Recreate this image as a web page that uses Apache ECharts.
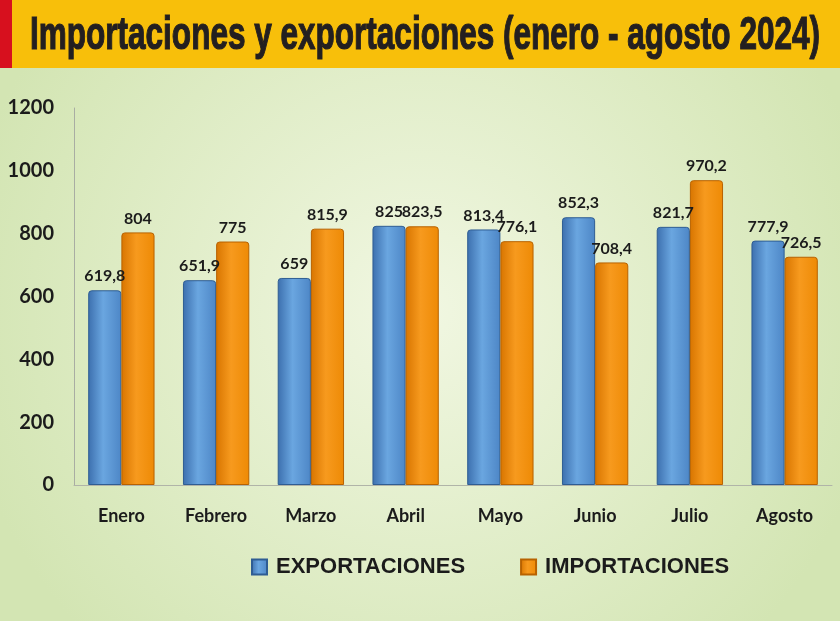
<!DOCTYPE html>
<html>
<head>
<meta charset="utf-8">
<script src="https://cdn.jsdelivr.net/npm/echarts@6/dist/echarts.min.js"></script>
<style>
  html, body { margin: 0; padding: 0; }
  #chart { width: 840px; height: 621px; }
</style>
</head>
<body>
<div id="chart"></div>
<script>
const titleText = "Importaciones y exportaciones (enero - agosto 2024)";
const months = ["Enero", "Febrero", "Marzo", "Abril", "Mayo", "Junio", "Julio", "Agosto"];
const exportaciones = [619.8, 651.9, 659, 825, 813.4, 852.3, 821.7, 777.9];
const importaciones = [804, 775, 815.9, 823.5, 776.1, 708.4, 970.2, 726.5];

const chart = echarts.init(document.getElementById("chart"));

// title is a condensed heavy face in the original; squeeze a bold sans to fit
const titleFont = "bold 46px 'Liberation Sans', Arial, sans-serif";
const ctx = document.createElement("canvas").getContext("2d");
ctx.font = titleFont;
const titleScale = 790 / ctx.measureText(titleText).width;

function barColor(light, mid, dark) {
  return new echarts.graphic.LinearGradient(0, 0, 1, 0, [
    { offset: 0, color: dark },
    { offset: 0.45, color: light },
    { offset: 1, color: mid },
  ]);
}

const labelStyle = {
  show: true,
  position: "top",
  distance: 6,
  color: "#1b1b1b",
  fontFamily: "Lato",
  fontWeight: "bold",
  fontSize: 16,
  formatter: (p) => String(p.value).replace(".", ","),
};

const option = {
  backgroundColor: new echarts.graphic.RadialGradient(0.5, 0.5, 0.75, [
    { offset: 0, color: "#f1f7e2" },
    { offset: 1, color: "#d3e5b3" },
  ]),
  graphic: [
    {
      type: "rect",
      shape: { x: 0, y: 0, width: 840, height: 68 },
      style: { fill: "#f8bf0a" },
      z: 1,
    },
    {
      type: "rect",
      shape: { x: 0, y: 0, width: 12, height: 68 },
      style: { fill: "#d7101e" },
      z: 2,
    },
    {
      type: "text",
      x: 30,
      y: 36,
      scaleX: titleScale,
      z: 3,
      style: {
        text: titleText,
        x: 0,
        y: 0,
        verticalAlign: "middle",
        fill: "#231f20",
        stroke: "#231f20",
        lineWidth: 1.2,
        font: titleFont,
      },
    },
  ],
  legend: {
    bottom: 38,
    left: 246,
    itemWidth: 15,
    itemHeight: 15,
    itemGap: 55,
    icon: "rect",
    textStyle: {
      fontFamily: "Liberation Sans",
      fontWeight: "bold",
      fontSize: 22,
      color: "#1b1b1b",
      padding: [0, 0, 0, 4],
    },
    data: ["EXPORTACIONES", "IMPORTACIONES"],
  },
  grid: {
    left: 74,
    right: 8,
    top: 108,
    bottom: 136,
  },
  xAxis: {
    type: "category",
    data: months,
    axisTick: { show: false },
    axisLine: { lineStyle: { color: "#b0b4a8", width: 1 } },
    axisLabel: {
      color: "#1b1b1b",
      fontFamily: "Lato",
      fontWeight: "bold",
      fontSize: 18,
      margin: 22,
    },
  },
  yAxis: {
    type: "value",
    min: 0,
    max: 1200,
    interval: 200,
    splitLine: { show: false },
    axisLine: { show: true, lineStyle: { color: "#a9ada3", width: 1 } },
    axisLabel: {
      color: "#1b1b1b",
      fontFamily: "Lato",
      fontWeight: "bold",
      fontSize: 20,
      margin: 20,
      formatter: (v) => String(v),
    },
  },
  series: [
    {
      name: "EXPORTACIONES",
      type: "bar",
      data: exportaciones,
      barGap: "0%",
      barCategoryGap: "30%",
      itemStyle: {
        color: barColor("#6aa6e0", "#4d86c6", "#3c6fae"),
        borderColor: "#2f5d93",
        borderWidth: 1,
        borderRadius: [3, 3, 0, 0],
      },
      label: labelStyle,
    },
    {
      name: "IMPORTACIONES",
      type: "bar",
      data: importaciones,
      itemStyle: {
        color: barColor("#f79a1e", "#ee8a05", "#d87500"),
        borderColor: "#b86200",
        borderWidth: 1,
        borderRadius: [3, 3, 0, 0],
      },
      label: labelStyle,
    },
  ],
};

chart.setOption(option);
</script>
</body>
</html>
